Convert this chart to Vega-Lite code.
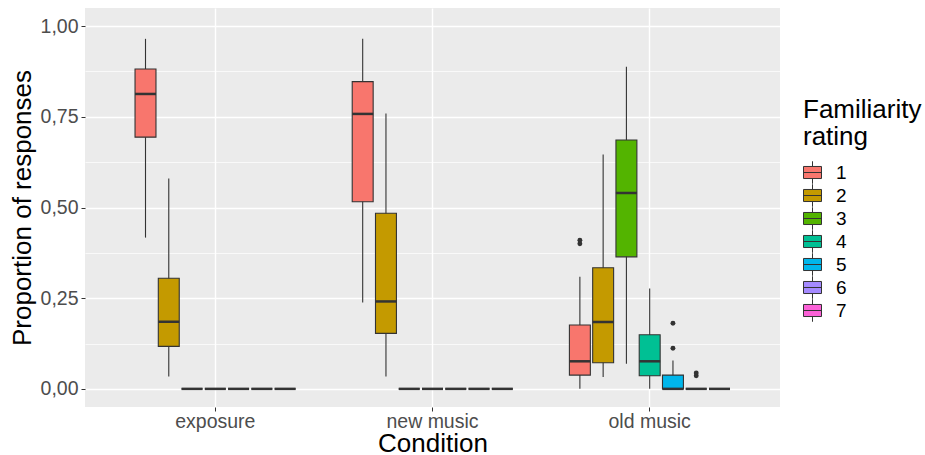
{
  "$schema": "https://vega.github.io/schema/vega-lite/v6.json",
  "width": 695,
  "height": 399,
  "autosize": "none",
  "padding": {"left": 85, "top": 8, "right": 145, "bottom": 48},
  "config": {"view": {"fill": "#EBEBEB", "stroke": null}, "font": "Liberation Sans"},
  "datasets": {
    "boxes": [
      {"condition": "exposure", "rating": "1", "lower": 0.417, "q1": 0.694, "median": 0.813, "q3": 0.882, "upper": 0.965},
      {"condition": "exposure", "rating": "2", "lower": 0.034, "q1": 0.117, "median": 0.185, "q3": 0.305, "upper": 0.580},
      {"condition": "exposure", "rating": "3", "lower": 0, "q1": 0, "median": 0, "q3": 0, "upper": 0},
      {"condition": "exposure", "rating": "4", "lower": 0, "q1": 0, "median": 0, "q3": 0, "upper": 0},
      {"condition": "exposure", "rating": "5", "lower": 0, "q1": 0, "median": 0, "q3": 0, "upper": 0},
      {"condition": "exposure", "rating": "6", "lower": 0, "q1": 0, "median": 0, "q3": 0, "upper": 0},
      {"condition": "exposure", "rating": "7", "lower": 0, "q1": 0, "median": 0, "q3": 0, "upper": 0},
      {"condition": "new music", "rating": "1", "lower": 0.238, "q1": 0.516, "median": 0.758, "q3": 0.847, "upper": 0.965},
      {"condition": "new music", "rating": "2", "lower": 0.034, "q1": 0.153, "median": 0.241, "q3": 0.484, "upper": 0.759},
      {"condition": "new music", "rating": "3", "lower": 0, "q1": 0, "median": 0, "q3": 0, "upper": 0},
      {"condition": "new music", "rating": "4", "lower": 0, "q1": 0, "median": 0, "q3": 0, "upper": 0},
      {"condition": "new music", "rating": "5", "lower": 0, "q1": 0, "median": 0, "q3": 0, "upper": 0},
      {"condition": "new music", "rating": "6", "lower": 0, "q1": 0, "median": 0, "q3": 0, "upper": 0},
      {"condition": "new music", "rating": "7", "lower": 0, "q1": 0, "median": 0, "q3": 0, "upper": 0},
      {"condition": "old music", "rating": "1", "lower": 0, "q1": 0.038, "median": 0.076, "q3": 0.176, "upper": 0.309},
      {"condition": "old music", "rating": "2", "lower": 0.033, "q1": 0.072, "median": 0.184, "q3": 0.334, "upper": 0.646},
      {"condition": "old music", "rating": "3", "lower": 0.069, "q1": 0.364, "median": 0.540, "q3": 0.686, "upper": 0.888},
      {"condition": "old music", "rating": "4", "lower": 0, "q1": 0.036, "median": 0.076, "q3": 0.149, "upper": 0.277},
      {"condition": "old music", "rating": "5", "lower": 0, "q1": 0, "median": 0, "q3": 0.038, "upper": 0.078},
      {"condition": "old music", "rating": "6", "lower": 0, "q1": 0, "median": 0, "q3": 0, "upper": 0},
      {"condition": "old music", "rating": "7", "lower": 0, "q1": 0, "median": 0, "q3": 0, "upper": 0}
    ],
    "outliers": [
      {"condition": "old music", "rating": "1", "value": 0.400},
      {"condition": "old music", "rating": "1", "value": 0.410},
      {"condition": "old music", "rating": "5", "value": 0.112},
      {"condition": "old music", "rating": "5", "value": 0.181},
      {"condition": "old music", "rating": "6", "value": 0.036},
      {"condition": "old music", "rating": "6", "value": 0.044}
    ]
  },
  "encoding": {
    "x": {
      "field": "condition",
      "type": "nominal",
      "scale": {"domain": ["exposure", "new music", "old music"], "paddingInner": 0.25, "paddingOuter": 0.225},
      "axis": {
        "title": "Condition",
        "titleFontSize": 26,
        "titleFontWeight": "normal",
        "titleColor": "black",
        "titlePadding": 0,
        "labelAngle": 0,
        "labelFontSize": 19.5,
        "labelColor": "#4D4D4D",
        "labelPadding": 1,
        "tickSize": 4,
        "tickColor": "#333333",
        "domain": false,
        "grid": true,
        "gridColor": "white",
        "gridWidth": 1.4
      }
    },
    "xOffset": {
      "field": "rating",
      "type": "nominal",
      "scale": {"domain": ["1", "2", "3", "4", "5", "6", "7"], "paddingInner": 0.1, "paddingOuter": 0.05}
    }
  },
  "layer": [
    {
      "data": {"name": "boxes"},
      "mark": {"type": "rule", "color": "#333333", "strokeWidth": 1.1},
      "encoding": {
        "y": {
          "field": "lower",
          "type": "quantitative",
          "scale": {"domain": [-0.05, 1.05], "nice": false, "zero": false},
          "axis": {
            "title": "Proportion of responses",
            "titleFontSize": 26,
            "titleFontWeight": "normal",
            "titleColor": "black",
            "titlePadding": 5,
            "labelFontSize": 19.5,
            "labelColor": "#4D4D4D",
            "labelPadding": 3,
            "tickSize": 4,
            "domain": false,
            "grid": true,
            "gridColor": "white",
            "values": [0, 0.125, 0.25, 0.375, 0.5, 0.625, 0.75, 0.875, 1],
            "labelExpr": "(datum.value * 8) % 2 == 0 ? replace(format(datum.value, '.2f'), '.', ',') : ''",
            "tickColor": {"condition": {"test": "(datum.value * 8) % 2 != 0", "value": "transparent"}, "value": "#333333"},
            "gridWidth": {"condition": {"test": "(datum.value * 8) % 2 != 0", "value": 0.7}, "value": 1.4}
          }
        },
        "y2": {"field": "upper"}
      }
    },
    {
      "data": {"name": "boxes"},
      "mark": {"type": "bar", "stroke": "#333333", "strokeWidth": 1.1, "opacity": 1},
      "encoding": {
        "y": {"field": "q1", "type": "quantitative"},
        "y2": {"field": "q3"},
        "fill": {
          "field": "rating",
          "type": "nominal",
          "scale": {
            "domain": ["1", "2", "3", "4", "5", "6", "7"],
            "range": ["#F8766D", "#C49A00", "#53B400", "#00C094", "#00B6EB", "#A58AFF", "#FB61D7"]
          },
          "legend": {
            "title": ["Familiarity", "rating"],
            "orient": "none",
            "legendX": 718,
            "legendY": 89,
            "titleFontSize": 26,
            "titleFontWeight": "normal",
            "titleColor": "black",
            "titleLineHeight": 27,
            "titlePadding": 13,
            "labelFontSize": 19,
            "labelColor": "black",
            "labelOffset": 14,
            "symbolType": "M-1,-0.67H1V0.67H-1Z M-1,0H1 M0,-0.67V-1.25 M0,0.67V1.25",
            "symbolSize": 324,
            "symbolStrokeColor": "#333333",
            "symbolStrokeWidth": 1,
            "symbolOpacity": 1,
            "rowPadding": -5.6
          }
        }
      }
    },
    {
      "data": {"name": "boxes"},
      "mark": {"type": "tick", "color": "#333333", "thickness": 2.5, "size": 21, "opacity": 1},
      "encoding": {
        "y": {"field": "median", "type": "quantitative"}
      }
    },
    {
      "data": {"name": "outliers"},
      "mark": {"type": "point", "filled": true, "color": "#333333", "size": 24, "opacity": 1},
      "encoding": {
        "y": {"field": "value", "type": "quantitative"}
      }
    }
  ]
}
